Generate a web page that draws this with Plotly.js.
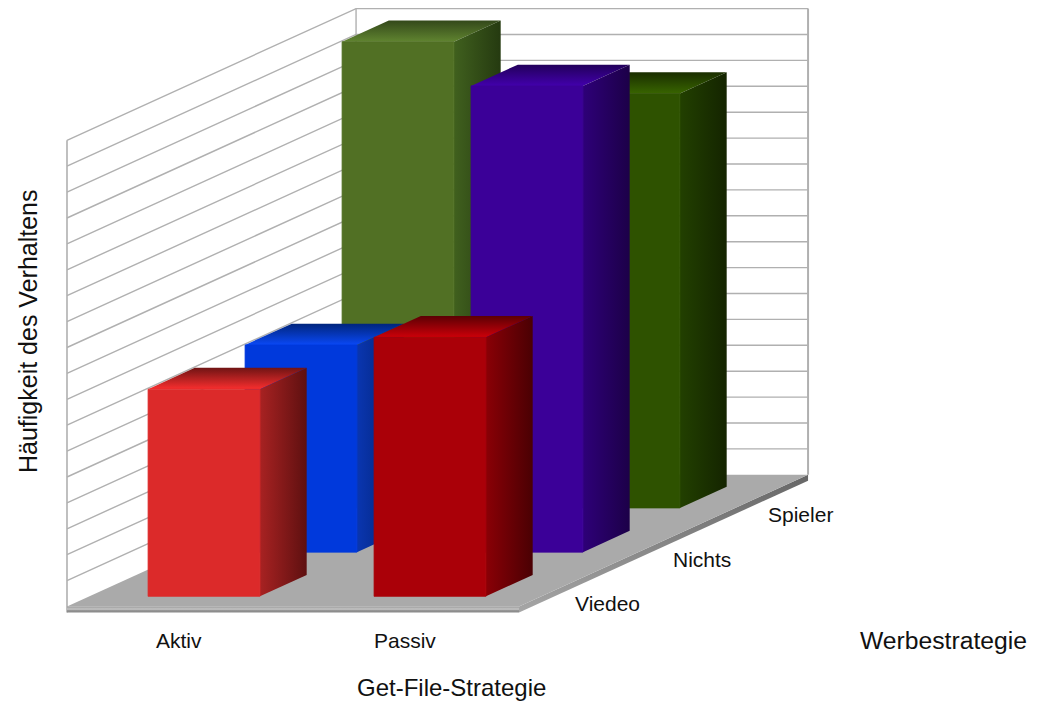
<!DOCTYPE html>
<html>
<head>
<meta charset="utf-8">
<script src="https://cdn.plot.ly/plotly-3.0.1.min.js"></script>
<style>html,body{margin:0;padding:0;background:#fff}#chart{width:1040px;height:701px}</style>
</head>
<body>
<div id="chart"></div>
<script>
// Behaviour frequency by get-file strategy (columns) and ad strategy (rows)
const getFileStrategies = ['Aktiv', 'Passiv'];
const adStrategies = ['Viedeo', 'Nichts', 'Spieler'];
const aktivValues = [8, 8, 18];
const passivValues = [10, 18, 16];
const gridValues = [1, 2, 3, 4, 5, 6, 7, 8, 9, 10, 11, 12, 13, 14, 15, 16, 17, 18];
const valueMax = 18;

// front / side start / side end / top front / top back, per row
const aktivColors = [
  ['#dc2a2a', '#a82222', '#5e1010', '#f82e2e', '#701414'],
  ['#0039dc', '#0a36b0', '#001f6e', '#0a48f5', '#00257c'],
  ['#517024', '#40601e', '#253a10', '#608430', '#33481a']
];
const passivColors = [
  ['#aa0008', '#8a0006', '#4a0003', '#cc0009', '#5c0004'],
  ['#3b0098', '#2e0078', '#1c0048', '#4200ac', '#22005a'],
  ['#2e5200', '#224000', '#142400', '#386400', '#1a2e00']
];

// Oblique projection: the x axis counts categories, the y axis counts value units,
// and each unit of depth shifts a point along both of them.
const pxPerCat = 226, pxPerValue = 25.9, originX = 67, originY = 606.5;
const shearX = 97 / pxPerCat, shearY = 44.2 / pxPerValue;
const floorDepth = 2.98, rowInset = 0.23, rowDepth = 0.482;
const barStart = 0.26, barEnd = 0.755, slab = 0.23;
const project = (cat, depth, value) => [cat + depth * shearX, value + depth * shearY];

const traces = [];
function polygon(points, fill, gradient, edge) {
  const xy = points.map(p => project(p[0], p[1], p[2]));
  const t = {
    type: 'scatter', mode: edge ? 'lines' : 'none', fill: 'toself', hoverinfo: 'skip', showlegend: false,
    x: xy.map(p => p[0]).concat(xy[0][0]),
    y: xy.map(p => p[1]).concat(xy[0][1]),
    fillcolor: fill
  };
  if (edge) t.line = {color: edge, width: 0.8};
  if (gradient) t.fillgradient = gradient;
  traces.push(t);
}
function line(points, color, width) {
  const xy = points.map(p => project(p[0], p[1], p[2]));
  traces.push({
    type: 'scatter', mode: 'lines', hoverinfo: 'skip', showlegend: false,
    x: xy.map(p => p[0]), y: xy.map(p => p[1]),
    line: {color: color, width: width}
  });
}
const cats = getFileStrategies.length;

// Walls
const wallColor = '#b0b0b0';
gridValues.forEach(v => {
  line([[0, 0, v], [0, floorDepth, v], [cats, floorDepth, v]], wallColor, 1.4);
});
line([[0, 0, -slab], [0, 0, valueMax]], wallColor, 1.6);
line([[0, floorDepth, 0], [0, floorDepth, valueMax]], wallColor, 1.4);
line([[cats, floorDepth, 0], [cats, floorDepth, valueMax]], wallColor, 2);

// Floor slab
polygon([[cats, 0, 0], [cats, floorDepth, 0], [cats, floorDepth, -slab], [cats, 0, -slab]], '#707070', {
  type: 'vertical', colorscale: [[0, '#a6a6a6'], [1, '#666666']]
});
polygon([[0, 0, 0], [cats, 0, 0], [cats, floorDepth, 0], [0, floorDepth, 0]], '#aaaaaa');
polygon([[0, 0, 0], [cats, 0, 0], [cats, 0, -slab], [0, 0, -slab]], '#a0a0a0', {
  type: 'vertical', colorscale: [[0, '#8a8a8a'], [0.3, '#8f8f8f'], [0.55, '#c6c6c6'], [1, '#9a9a9a']]
});

// One bar: top, right side and front faces
function bar(catIndex, rowIndex, value, colors) {
  const x0 = catIndex + barStart, x1 = catIndex + barEnd;
  const d0 = rowIndex + rowInset, d1 = d0 + rowDepth;
  polygon([[x0, d0, value], [x1, d0, value], [x1, d1, value], [x0, d1, value]], colors[3], {
    type: 'vertical', colorscale: [[0, colors[3]], [1, colors[4]]]
  });
  polygon([[x1, d0, 0], [x1, d1, 0], [x1, d1, value], [x1, d0, value]], colors[1], {
    type: 'horizontal', colorscale: [[0, colors[1]], [1, colors[2]]]
  });
  polygon([[x0, d0, 0], [x1, d0, 0], [x1, d0, value], [x0, d0, value]], colors[0], null, colors[0]);
}
for (let row = adStrategies.length - 1; row >= 0; row--) {
  bar(0, row, aktivValues[row], aktivColors[row]);
  bar(1, row, passivValues[row], passivColors[row]);
}

// Category labels sit beneath the floor's front and right edges
const family = 'Liberation Sans, Arial, sans-serif';
const labelFont = {family: family, size: 21, color: '#111111'};
const depthLabelShift = [0.175, 0.165, 0.172];
const annotations = [];
getFileStrategies.forEach((name, i) => {
  const p = project(i + 0.495, 0, -1.33);
  annotations.push({x: p[0], y: p[1], text: name, showarrow: false, font: labelFont, xanchor: 'center', yanchor: 'middle'});
});
adStrategies.forEach((name, j) => {
  const p = project(cats + depthLabelShift[j], j + 0.5, -0.73);
  annotations.push({x: p[0], y: p[1], text: name, showarrow: false, font: labelFont, xanchor: 'center', yanchor: 'middle'});
});
const paperTitle = (text, px, py, size, angle) => ({
  xref: 'paper', yref: 'paper', x: px / 1040, y: 1 - py / 701, text: text, showarrow: false,
  font: {family: family, size: size, color: '#111111'}, xanchor: 'center', yanchor: 'middle', textangle: angle || 0
});
annotations.push(paperTitle('Get-File-Strategie', 451, 687, 24));
annotations.push(paperTitle('Werbestrategie', 943.5, 640, 24.7));
annotations.push(paperTitle('Häufigkeit des Verhaltens', 28, 331, 25, -90));

const hiddenAxis = {visible: false, fixedrange: true, autorange: false};
const layout = {
  width: 1040, height: 701, margin: {l: 0, r: 0, t: 0, b: 0},
  paper_bgcolor: '#ffffff', plot_bgcolor: '#ffffff', showlegend: false,
  xaxis: Object.assign({}, hiddenAxis, {range: [-originX / pxPerCat, (1040 - originX) / pxPerCat]}),
  yaxis: Object.assign({}, hiddenAxis, {range: [(originY - 701) / pxPerValue, originY / pxPerValue]}),
  annotations: annotations
};
Plotly.newPlot('chart', traces, layout, {displayModeBar: false, staticPlot: true});
</script>
</body>
</html>
